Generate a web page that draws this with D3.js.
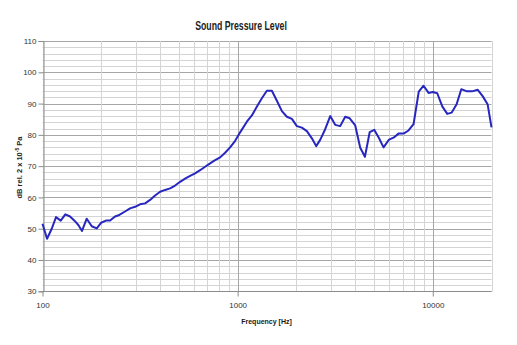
<!DOCTYPE html>
<html><head><meta charset="utf-8">
<script src="https://cdn.jsdelivr.net/npm/d3@7"></script>
<style>body{margin:0;background:#fff}svg{display:block}</style>
</head><body>
<script>
const freqs = [100,105.5,111.5,117.3,124,130.9,138.4,146.3,152.6,159.4,168.5,178.8,189.7,199.5,211.7,222,235.4,247.6,264.9,281,298.2,316.2,335.5,355.9,377.6,400.6,424.9,450.7,478.1,507.2,538.1,570.7,605.4,642.2,681.3,722.8,766.7,813.4,862.8,915.3,971,1030,1115,1183,1254,1331,1412,1498,1589,1686,1788,1897,2012,2134,2264,2402,2527,2649,2810,2982,3162,3355,3559,3752,4006,4249,4491,4753,5012,5299,5594,5968,6295,6677,7085,7515,7971,8477,8972,9517,10000,10546,11187,11868,12486,13250,14003,14977,15888,17012,18050,19099,20000];
const spl = [51.6,46.8,50.0,53.7,52.6,54.6,53.9,52.5,51.2,49.3,53.2,50.8,50.1,51.9,52.6,52.6,53.9,54.4,55.5,56.5,57.0,57.8,58.1,59.2,60.6,61.8,62.4,62.9,63.8,65.0,66.0,66.9,67.7,68.7,69.8,70.9,71.9,72.8,74.3,76.0,78.1,80.8,84.2,86.2,89.0,91.7,94.1,94.1,90.9,87.6,85.8,85.1,82.8,82.3,81.2,78.9,76.4,78.4,81.8,86.0,83.2,82.8,85.8,85.3,83.0,75.9,73.0,80.9,81.6,79.0,76.0,78.5,79.1,80.4,80.4,81.4,83.4,93.8,95.7,93.4,93.7,93.3,89.1,86.7,87.1,89.8,94.6,93.9,93.9,94.4,92.3,89.8,82.4];
const yTicks = [30,40,50,60,70,80,90,100,110];
const xTicks = [100,1000,10000];
const titleText = "Sound Pressure Level";
const xTitle = "Frequency [Hz]";

const W = 517, H = 345;
const svg = d3.select("body").append("svg").attr("width", W).attr("height", H);
const x = d3.scaleLog().domain([100, 20000]).range([42.5, 491.5]);
const y = d3.scaleLinear().domain([30, 110]).range([291.3, 41]);
const font = "'Liberation Sans', Arial, sans-serif";

// horizontal grid every 2 dB
const hLines = d3.range(30, 111, 2);
svg.append("g").selectAll("line").data(hLines).join("line")
  .attr("x1", x(100)).attr("x2", x(20000))
  .attr("y1", d => Math.round(y(d)) + 0.5).attr("y2", d => Math.round(y(d)) + 0.5)
  .attr("stroke", d => d % 10 === 0 ? "#a6a6a6" : "#d4d4d4").attr("stroke-width", 1);

// vertical grid
const vLines = [];
[100, 1000, 10000].forEach(dec => { for (let k = 1; k <= 9; k++) { const f = dec * k; if (f <= 20000) vLines.push(f); } });
vLines.push(20000);
svg.append("g").selectAll("line").data(vLines).join("line")
  .attr("x1", d => Math.round(x(d)) + 0.5).attr("x2", d => Math.round(x(d)) + 0.5)
  .attr("y1", y(30)).attr("y2", y(110))
  .attr("stroke", d => (d === 1000 || d === 10000) ? "#a6a6a6" : "#d4d4d4").attr("stroke-width", 1);

// axes
const gy = svg.append("g").attr("transform", "translate(" + (Math.round(x(100)) + 0.5) + ",0)")
  .call(d3.axisLeft(y).tickValues(yTicks).tickSize(5).tickPadding(2).tickFormat(d3.format("d")));
const gx = svg.append("g").attr("transform", "translate(0," + (Math.round(y(30)) + 0.5) + ")")
  .call(d3.axisBottom(x).tickValues(xTicks).tickSize(5).tickPadding(5.5).tickFormat(d3.format("d")));
[gx, gy].forEach(g => {
  g.select(".domain").attr("stroke", "#8c8c8c");
  g.selectAll(".tick line").attr("stroke", "#8c8c8c");
  g.selectAll("text").attr("font-family", font).attr("font-size", 8).attr("fill", "#333");
});
gx.select(".domain").attr("d", "M" + x(100) + ",0H" + x(20000));

// line
const line = d3.line().x((d, i) => x(freqs[i])).y(d => y(d));
svg.append("path").datum(spl).attr("d", line)
  .attr("fill", "none").attr("stroke", "#2727c0").attr("stroke-width", 2).attr("stroke-linejoin", "round");

// titles
svg.append("text").attr("transform", "translate(241,29.5) scale(0.7,1)").attr("text-anchor", "middle")
  .attr("font-family", font).attr("font-weight", "bold").attr("font-size", 12.5).attr("fill", "#222")
  .text(titleText);
svg.append("text").attr("x", 266.5).attr("y", 324).attr("text-anchor", "middle")
  .attr("font-family", font).attr("font-weight", "bold").attr("font-size", 7).attr("fill", "#1a1a1a")
  .style("fill", "#1a1a1a").text(xTitle);
const yt = svg.append("text").attr("transform", "translate(22,167.5) rotate(-90)").attr("text-anchor", "middle")
  .attr("font-family", font).attr("font-weight", "bold").attr("font-size", 7.5).attr("fill", "#222");
yt.append("tspan").text("dB rel. 2 x 10");
yt.append("tspan").attr("font-size", 5).attr("dy", -3).text("-5");
yt.append("tspan").attr("dy", 3).text(" Pa");
</script>
</body></html>
